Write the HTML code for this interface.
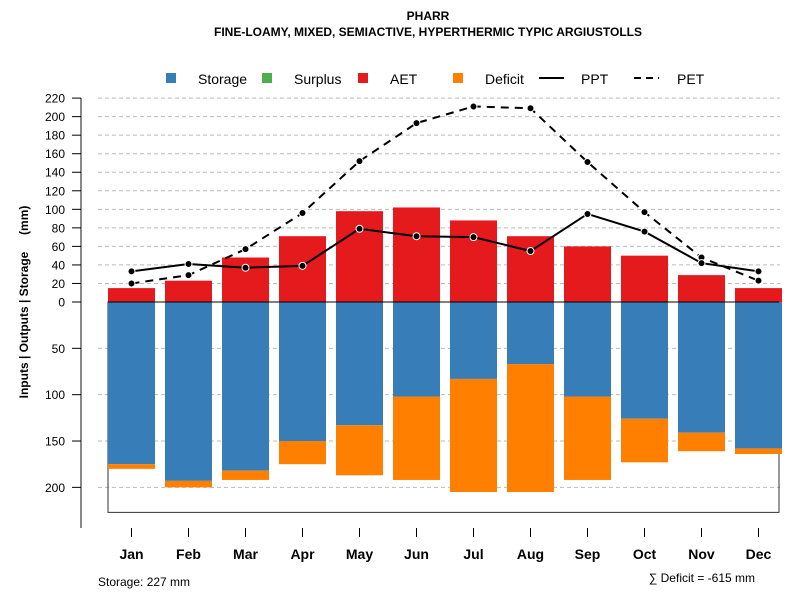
<!DOCTYPE html>
<html><head><meta charset="utf-8"><style>
body{margin:0;background:#fff;font-family:"Liberation Sans",Arial,sans-serif}
svg text{font-family:"Liberation Sans",Arial,sans-serif}
</style></head><body>
<svg id="chart" width="800" height="600" xmlns="http://www.w3.org/2000/svg">
<rect width="800" height="600" fill="#fff"/>
<text x="428" y="20" font-size="12" font-weight="bold" text-anchor="middle">PHARR</text>
<text x="428" y="36" font-size="12" font-weight="bold" text-anchor="middle">FINE-LOAMY, MIXED, SEMIACTIVE, HYPERTHERMIC TYPIC ARGIUSTOLLS</text>
<g font-size="14">
<rect x="166" y="73" width="10" height="10" fill="#377eb8"/>
<text x="198" y="84">Storage</text>
<rect x="262" y="73" width="10" height="10" fill="#4daf4a"/>
<text x="294" y="84">Surplus</text>
<rect x="358" y="73" width="10" height="10" fill="#e41a1c"/>
<text x="390" y="84">AET</text>
<rect x="453" y="73" width="10" height="10" fill="#ff7f00"/>
<text x="485" y="84">Deficit</text>
<line x1="539" y1="78" x2="564" y2="78" stroke="#000" stroke-width="2"/>
<text x="581" y="84">PPT</text>
<line x1="634" y1="78" x2="659" y2="78" stroke="#000" stroke-width="2" stroke-dasharray="7,5"/>
<text x="677" y="84">PET</text>
</g>
<text xml:space="preserve" style="white-space:pre" transform="translate(28,302) rotate(-90)" font-size="12" font-weight="bold" text-anchor="middle">Inputs | Outputs | Storage     (mm)</text>
<g id="grid"></g><g id="bars"></g><g id="lines"></g><g id="axes"></g>
<text x="98" y="586" font-size="12">Storage: 227 mm</text>
<text x="755" y="582" font-size="12" text-anchor="end">∑ Deficit = -615 mm</text>
</svg>
<script>
const months=["Jan","Feb","Mar","Apr","May","Jun","Jul","Aug","Sep","Oct","Nov","Dec"];
const aet=[15,23,48,71,98,102,88,71,60,50,29,15];
const storage=[175,193,182,150,133,102,83,67,102,126,141,158];
const deficit=[5,7,10,25,54,90,122,138,90,47,20,6];
const ppt=[33,41,37,39,79,71,70,55,95,76,42,33];
const pet=[20,29,57,96,152,193,211,209,151,97,48,23];
const upTicks=[0,20,40,60,80,100,120,140,160,180,200,220];
const downTicks=[50,100,150,200];
const storageCap=227;
const NS="http://www.w3.org/2000/svg";
const y0=302,k=0.9268;
const yUp=v=>y0-v*k, yDown=v=>y0+v*k;
const xc=i=>131.5+i*57, bw=47;
function mk(p,t,a){const e=document.createElementNS(NS,t);for(const q in a)e.setAttribute(q,a[q]);p.appendChild(e);return e;}
const grid=document.getElementById('grid'),bars=document.getElementById('bars'),lines=document.getElementById('lines'),axes=document.getElementById('axes');
upTicks.forEach(v=>{if(v===0)return;const l=mk(grid,'line',{x1:98,x2:780,y1:yUp(v),y2:yUp(v),stroke:'#bbb','stroke-dasharray':'4,3'});

});
downTicks.forEach(v=>{const l=mk(grid,'line',{x1:98,x2:780,y1:yDown(v),y2:yDown(v),stroke:'#bbb','stroke-dasharray':'4,3'});

});
const box=mk(grid,'rect',{x:108,y:y0,width:671,height:storageCap*k,fill:'none',stroke:'#333'});


months.forEach((m,i)=>{
 const x=xc(i)-bw/2;
 const a=mk(bars,'rect',{x:x,y:yUp(aet[i]),width:bw,height:aet[i]*k,fill:'#e41a1c'});
 
 
 const s=mk(bars,'rect',{x:x,y:y0,width:bw,height:storage[i]*k,fill:'#377eb8'});
 
 
 const d=mk(bars,'rect',{x:x,y:yDown(storage[i]),width:bw,height:deficit[i]*k,fill:'#ff7f00'});
 
 
});
const zl=mk(bars,'line',{x1:108,x2:779,y1:y0,y2:y0,stroke:'#000'});


function series(vals,name,dash){
 const pts=vals.map((v,i)=>xc(i)+','+yUp(v)).join(' ');
 const pl=mk(lines,'polyline',{points:pts,fill:'none',stroke:'#000','stroke-width':2,'stroke-dasharray':dash});
 
 
 vals.forEach((v,i)=>{const c=mk(lines,'circle',{cx:xc(i),cy:yUp(v),r:3.5,fill:'#000',stroke:'#fff','stroke-width':1});
 
 });
}
series(pet,'pet','8,6');
series(ppt,'ppt','none');
const ax=mk(axes,'line',{x1:81,x2:81,y1:98,y2:528,stroke:'#888','stroke-width':2});


function ytick(y,lab){mk(axes,'line',{x1:72,x2:81,y1:y,y2:y,stroke:'#000'});
 const t=mk(axes,'text',{x:65,y:y+4.5,'font-size':12,'text-anchor':'end'});t.textContent=lab;
 
 }
upTicks.forEach(v=>ytick(yUp(v),v));
downTicks.forEach(v=>ytick(yDown(v),v));
months.forEach((m,i)=>{mk(axes,'line',{x1:xc(i),x2:xc(i),y1:528,y2:537,stroke:'#000'});
 const t=mk(axes,'text',{x:xc(i),y:559,'font-size':14,'font-weight':'bold','text-anchor':'middle'});t.textContent=m;
 
 });
</script>
</body></html>
